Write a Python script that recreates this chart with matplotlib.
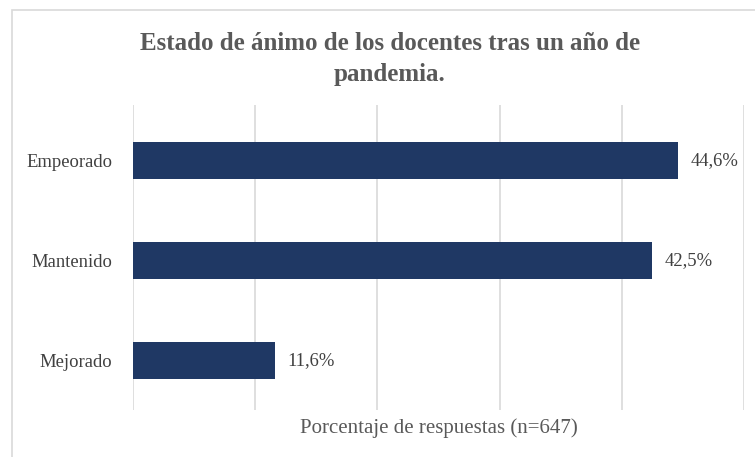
import matplotlib.pyplot as plt
from matplotlib.patches import Rectangle

categorias = ["Mejorado", "Mantenido", "Empeorado"]
porcentajes = [11.6, 42.5, 44.6]
etiquetas = ["11,6%", "42,5%", "44,6%"]
titulo = "Estado de ánimo de los docentes tras un año de\npandemia."
eje_x = "Porcentaje de respuestas (n=647)"

W, H = 755, 457
fig = plt.figure(figsize=(W / 100, H / 100), dpi=100)
plt.rcParams['font.family'] = ['Liberation Serif', 'DejaVu Serif']

# marco del gráfico
fig.patches.append(Rectangle((12 / W, -0.05), 1.0, 1 - 10 / H + 0.05,
                             transform=fig.transFigure, fill=False,
                             edgecolor='#D9D9D9', linewidth=1.2))

ax = fig.add_axes([133 / W, 1 - 410 / H, (744 - 133) / W, (410 - 105) / H])
y = range(len(categorias))
ax.barh(y, porcentajes, height=0.37, color='#1F3864', zorder=2)
ax.set_xlim(0, 50)
ax.set_ylim(-0.495, 2.555)
ax.set_xticks([0, 10, 20, 30, 40, 50])
ax.set_xticklabels([])
ax.tick_params(axis='x', length=0)
ax.tick_params(axis='y', length=0, pad=15, labelsize=13.4, labelcolor='#404040')
ax.set_yticks(list(y))
ax.set_yticklabels(categorias)
ax.grid(axis='x', color='#D9D9D9', linewidth=1.2, zorder=0)
for s in ax.spines.values():
    s.set_visible(False)

for yi, v, t in zip(y, porcentajes, etiquetas):
    ax.annotate(t, (v, yi), xytext=(9, 0), textcoords='offset points',
                va='center', ha='left', fontsize=13.4, color='#404040')

fig.text(390 / W, 1 - 59 / H, titulo, ha='center', va='center',
         fontsize=18, fontweight='bold', color='#595959', linespacing=1.4)
fig.text(438.5 / W, 1 - 428 / H, eje_x, ha='center', va='center',
         fontsize=15, color='#595959')

fig.savefig('out.png', dpi=100)
